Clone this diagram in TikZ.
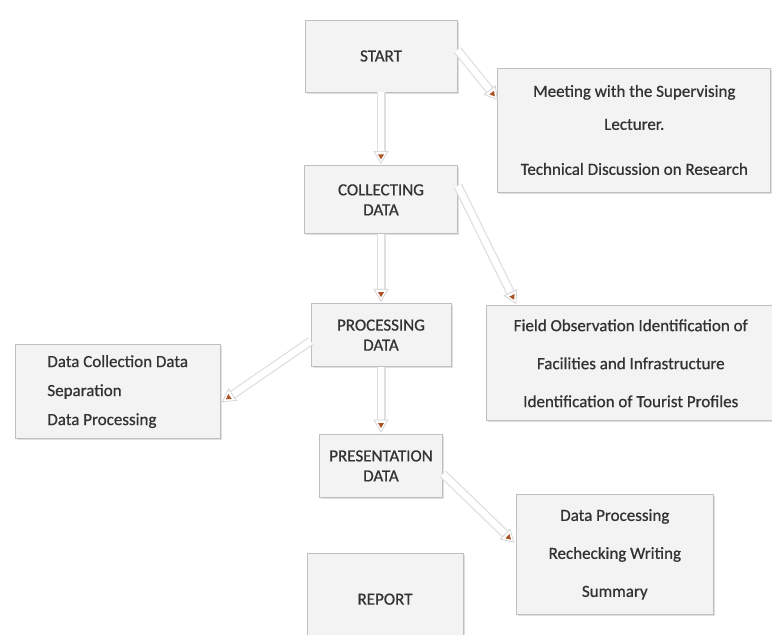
\documentclass[tikz,border=0pt]{standalone}
\usepackage{fontspec}
\setmainfont{Carlito}
\newfontfamily\boxfont{Carlito}[FakeBold=0.7]
\usetikzlibrary{positioning,shadows,decorations.markings}
\definecolor{tipbrown}{RGB}{170,85,40}
\definecolor{boxfill}{RGB}{243,243,243}

\begin{document}
\begin{tikzpicture}[
  node distance=70pt,
  every node/.style={font=\boxfont\fontsize{17}{20}\selectfont,align=center,
    text=black!80,inner sep=0pt},
  box/.style={draw=gray!50,fill=boxfill,line width=0.8pt,
    drop shadow={opacity=0.25,shadow xshift=1.5pt,shadow yshift=-1.5pt}},
  pipe/.style={draw=gray!25,line width=9pt,shorten >=8pt,
    postaction={draw=white,line width=6.5pt},
    postaction={decorate,decoration={markings,
      mark=at position 1 with {
        \filldraw[draw=gray!40,fill=white,line width=0.6pt]
          (0,0) -- (-12pt,7pt) -- (-12pt,-7pt) -- cycle;
        \fill[tipbrown] (-4pt,0) -- (-9pt,3pt) -- (-9pt,-3pt) -- cycle;}}}}
 ]
  \useasboundingbox (0,0) rectangle (772pt,-635pt);
  \node[box,minimum width=152pt,minimum height=72pt] (start) at (381pt,-56pt) {START};
  \node[box,below=73pt of start,minimum width=153pt,minimum height=68pt] (collect)
    {COLLECTING\\DATA};
  \node[box,below=69pt of collect,minimum width=140pt,minimum height=63pt] (process)
    {PROCESSING\\DATA};
  \node[box,below=67pt of process,minimum width=123pt,minimum height=63pt] (present)
    {PRESENTATION\\DATA};
  \node[box,below=55pt of present,xshift=4pt,minimum width=156pt,minimum height=92pt]
    (report) {REPORT};
  \node[box,right=40pt of start.north east,anchor=north west,yshift=-48pt,
    minimum width=273pt,minimum height=124pt] (meet)
    {Meeting with the Supervising\\[13pt]Lecturer.\\[25pt]Technical Discussion on Research};
  \node[box,right=28pt of collect.north east,anchor=north west,yshift=-140pt,
    minimum width=289pt,minimum height=115pt] (field)
    {Field Observation Identification of\\[18pt]Facilities and Infrastructure\\[18pt]
    Identification of Tourist Profiles};
  \node[box,left=90pt of process.north west,anchor=north east,yshift=-41pt,
    minimum width=205pt,minimum height=94pt,align=left] (separate)
    {Data Collection Data\\[9pt]Separation\\[9pt]Data Processing};
  \node[box,right=73pt of present.north east,anchor=north west,yshift=-60pt,
    minimum width=197pt,minimum height=120pt] (summary)
    {Data Processing\\[18pt]Rechecking Writing\\[18pt]Summary};
  \draw[pipe] (start.south) -- ([yshift=2pt]collect.north);
  \draw[pipe] ([yshift=6pt]start.east) -- ([yshift=-32pt]meet.north west);
  \draw[pipe] (collect.south) -- ([yshift=2pt]process.north);
  \draw[pipe] ([yshift=14pt]collect.east) -- ([xshift=30pt,yshift=2pt]field.north west);
  \draw[pipe] ([yshift=-6pt]process.west) -- ([xshift=2pt,yshift=-10pt]separate.east);
  \draw[pipe] (process.south) -- ([yshift=2pt]present.north);
  \draw[pipe] ([yshift=-8pt]present.east) -- ([xshift=-2pt,yshift=12pt]summary.west);
 \end{tikzpicture}
\end{document}
